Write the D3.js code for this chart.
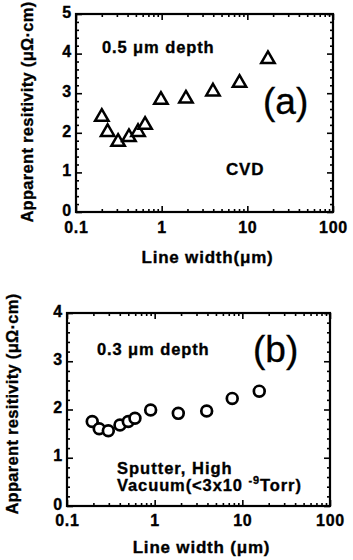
<!DOCTYPE html>
<html>
<head>
<meta charset="utf-8">
<script src="https://cdn.jsdelivr.net/npm/d3@7"></script>
<style>
  html, body { margin: 0; padding: 0; background: #fff; }
  svg { display: block; }
  text { font-family: "Liberation Sans", Arial, sans-serif; font-weight: bold; fill: #000; stroke: #000; stroke-width: 0.35px; }
</style>
</head>
<body>
<div id="chart"></div>
<script>
// panel (a): CVD, 0.5 um depth
const widthsA = [0.2, 0.234, 0.31, 0.415, 0.53, 0.64, 0.98, 1.92, 3.97, 8.1, 17.4];
const resistA = [2.4, 2.02, 1.77, 1.89, 2.02, 2.2, 2.83, 2.86, 3.04, 3.26, 3.86];

// panel (b): sputter, 0.3 um depth
const widthsB = [0.194, 0.233, 0.296, 0.402, 0.5, 0.596, 0.9, 1.86, 3.92, 7.67, 15.6];
const resistB = [1.75, 1.6, 1.56, 1.68, 1.75, 1.82, 1.99, 1.92, 1.97, 2.23, 2.38];

const xTickLabels = ['0.1', '1', '10', '100'];
const yTitle = 'Apparent resitivity (\u03bc\u03a9\u00b7cm)';

const W = 353, H = 560;
const svg = d3.select('#chart').append('svg').attr('width', W).attr('height', H);

function drawPanel(p) {
  const g = svg.append('g').attr('transform', `translate(${p.left},${p.top})`);
  const w = p.right - p.left, h = p.bottom - p.top;

  const x = d3.scaleLog().domain([0.1, 100]).range([0, w]);
  const y = d3.scaleLinear().domain([0, p.yMax]).range([h, 0]);

  const majorX = xTickLabels.map(Number);
  const minorX = [];
  [0.1, 1, 10].forEach(d => { for (let k = 2; k <= 9; k++) minorX.push(d * k); });
  const majorY = d3.range(0, p.yMax + 1);
  const minorY = d3.range(0, p.yMax * 5 + 1).map(i => i / 5).filter(v => !majorY.includes(v));

  // bottom axis with labels
  g.append('g').attr('transform', `translate(0,${h})`)
    .call(d3.axisBottom(x).tickValues(majorX).tickFormat((d, i) => xTickLabels[i]).tickSizeInner(-6).tickSizeOuter(0).tickPadding(p.xPad));
  g.append('g').attr('transform', `translate(0,${h})`)
    .call(d3.axisBottom(x).tickValues(minorX).tickFormat('').tickSizeInner(-3).tickSizeOuter(0));
  // top mirror
  g.append('g').call(d3.axisTop(x).tickValues(majorX).tickFormat('').tickSizeInner(-6).tickSizeOuter(0));
  g.append('g').call(d3.axisTop(x).tickValues(minorX).tickFormat('').tickSizeInner(-3).tickSizeOuter(0));

  // left axis with labels
  g.append('g')
    .call(d3.axisLeft(y).tickValues(majorY).tickFormat(d3.format('d')).tickSizeInner(-6).tickSizeOuter(0).tickPadding(4));
  g.append('g').call(d3.axisLeft(y).tickValues(minorY).tickFormat('').tickSizeInner(-3).tickSizeOuter(0));
  // right mirror
  g.append('g').attr('transform', `translate(${w},0)`)
    .call(d3.axisRight(y).tickValues(majorY).tickFormat('').tickSizeInner(-6).tickSizeOuter(0));
  g.append('g').attr('transform', `translate(${w},0)`)
    .call(d3.axisRight(y).tickValues(minorY).tickFormat('').tickSizeInner(-3).tickSizeOuter(0));

  g.selectAll('.domain').remove();
  g.selectAll('.tick line').attr('stroke', '#000').attr('stroke-width', 1.6);
  g.selectAll('.tick text').style('font-size', '16px').style('font-family', '"Liberation Sans", Arial, sans-serif')
    .style('font-weight', 'bold').attr('fill', '#000').style('letter-spacing', '0.8px');
  g.selectAll('.tick text').filter(function () { return this.getAttribute('x') !== null && +this.getAttribute('x') < 0; })
    .attr('dy', '0.2em');

  g.append('rect').attr('width', w).attr('height', h)
    .attr('fill', 'none').attr('stroke', '#000').attr('stroke-width', 2.2);

  // markers
  const pts = p.xs.map((d, i) => ({ x: d, y: p.ys[i] }));
  if (p.marker === 'triangle') {
    g.selectAll('.mk').data(pts).enter().append('path')
      .attr('d', d3.symbol().type(d3.symbolTriangle).size(78))
      .attr('transform', d => `translate(${x(d.x)},${y(d.y)})`)
      .attr('fill', '#fff').attr('stroke', '#000').attr('stroke-width', 2.5);
  } else {
    g.selectAll('.mk').data(pts).enter().append('circle')
      .attr('cx', d => x(d.x)).attr('cy', d => y(d.y)).attr('r', 5.4)
      .attr('fill', '#fff').attr('stroke', '#000').attr('stroke-width', 2.7);
  }

  // axis titles
  svg.append('text').attr('x', (p.left + p.right) / 2 + 3).attr('y', p.xTitleY)
    .attr('text-anchor', 'middle').style('font-size', '17px').style('letter-spacing', '0.8px')
    .text(p.xTitle);
  svg.append('text').attr('transform', `translate(${p.yTitleX},${p.yTitleMid}) rotate(-90)`)
    .attr('text-anchor', 'middle').style('font-size', '16.5px').style('letter-spacing', '0.3px')
    .text(yTitle);

  // annotations
  p.notes.forEach(n => {
    const t = svg.append('text').attr('x', n.x).attr('y', n.y)
      .style('font-size', n.size + 'px').style('font-weight', n.weight || 'bold')
      .style('letter-spacing', (n.ls || 0) + 'px');
    if (n.parts) {
      n.parts.forEach(pt => {
        const s = t.append('tspan').text(pt.t);
        if (pt.dy) s.attr('dy', pt.dy);
        if (pt.size) s.style('font-size', pt.size + 'px');
        if (pt.dx) s.attr('dx', pt.dx);
      });
    } else {
      t.text(n.text);
    }
  });
}

drawPanel({
  left: 76, right: 333, top: 14, bottom: 212, yMax: 5,
  xs: widthsA, ys: resistA, marker: 'triangle',
  xPad: 10, xTitle: 'Line width(\u03bcm)', xTitleY: 263,
  yTitleX: 33, yTitleMid: 112,
  notes: [
    { x: 102, y: 53, size: 16.5, ls: 0.9, text: '0.5 \u03bcm depth' },
    { x: 263, y: 114, size: 37, weight: 'normal', text: '(a)' },
    { x: 226, y: 175, size: 17, ls: 0.8, text: 'CVD' }
  ]
});

drawPanel({
  left: 67, right: 330, top: 313, bottom: 506, yMax: 4,
  xs: widthsB, ys: resistB, marker: 'circle',
  xPad: 9, xTitle: 'Line width (\u03bcm)', xTitleY: 553,
  yTitleX: 18, yTitleMid: 404,
  notes: [
    { x: 97, y: 355, size: 16.5, ls: 0.9, text: '0.3 \u03bcm depth' },
    { x: 253, y: 362, size: 37, weight: 'normal', text: '(b)' },
    { x: 117, y: 474, size: 16.5, ls: 1, text: 'Sputter, High' },
    { x: 117, y: 491, size: 16.5, ls: 0.9, parts: [
      { t: 'Vacuum(<3x10 ' },
      { t: '-9', size: 11, dy: -7 },
      { t: 'Torr)', dy: 7 }
    ] }
  ]
});
</script>
</body>
</html>
